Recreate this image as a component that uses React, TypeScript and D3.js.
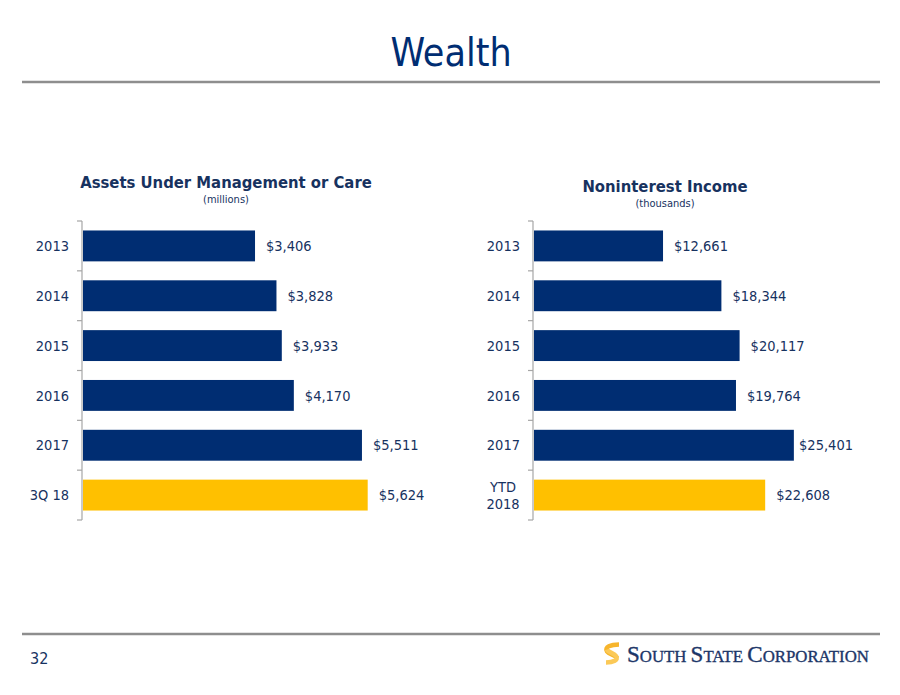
import React from "react";
import * as d3 from "d3";

const aumCategories = ["2013", "2014", "2015", "2016", "2017", "3Q 18"];
const aumValues = [3406, 3828, 3933, 4170, 5511, 5624];
const incomeCategories = ["2013", "2014", "2015", "2016", "2017", "YTD\n2018"];
const incomeValues = [12661, 18344, 20117, 19764, 25401, 22608];
const highlightIndex = 5;

const NAVY = "#002D72";
const GOLD = "#FFC000";
const TEXT = "#17325F";
const FONT = "'DejaVu Sans Condensed', 'DejaVu Sans', sans-serif";

type PanelProps = {
  title: string;
  subtitle: string;
  categories: string[];
  values: number[];
  axisX: number;
  xMax: number;
  xRangeEnd: number;
  titleX: number;
  titleY: number;
  subY: number;
  labelRightLimit: number;
};

function Panel(p: PanelProps) {
  const y = d3
    .scaleBand<string>()
    .domain(p.categories)
    .range([221, 520])
    .paddingInner(0.38)
    .paddingOuter(0.19);
  const x = d3.scaleLinear().domain([0, p.xMax]).range([p.axisX, p.xRangeEnd]);
  const fmt = d3.format("$,");
  const step = y.step();
  const boundaries = d3.range(p.categories.length + 1).map((i) => 221 + i * step);
  return (
    <g>
      <text x={p.titleX} y={p.titleY} textAnchor="middle" fontFamily={FONT} fontWeight="bold" fontSize={16.5} fill={TEXT}>
        {p.title}
      </text>
      <text x={p.titleX} y={p.subY} textAnchor="middle" fontFamily={FONT} fontSize={11} fill={TEXT}>
        {p.subtitle}
      </text>
      <line x1={p.axisX} x2={p.axisX} y1={221} y2={520} stroke="#A6A6A6" strokeWidth={1.2} />
      {boundaries.map((b, i) => (
        <line key={i} x1={p.axisX - 5} x2={p.axisX} y1={b} y2={b} stroke="#A6A6A6" strokeWidth={1.2} />
      ))}
      {p.categories.map((c, i) => {
        const y0 = y(c)!;
        const bw = y.bandwidth();
        const end = x(p.values[i]);
        const label = fmt(p.values[i]);
        const estW = label.length * 8.3;
        let lx = end + 11;
        let anchor: "start" | "end" = "start";
        if (lx + estW > p.labelRightLimit) {
          lx = p.labelRightLimit;
          anchor = "end";
        }
        const cy = y0 + bw / 2;
        const lines = c.split("\n");
        return (
          <g key={c}>
            <rect x={p.axisX + 1} y={y0} width={end - p.axisX - 1} height={bw} fill={i === highlightIndex ? GOLD : NAVY} />
            <text x={lx} y={cy} dy="0.36em" textAnchor={anchor} fontFamily={FONT} fontSize={14.5} fill={TEXT}>
              {label}
            </text>
            {lines.length === 1 ? (
              <text x={p.axisX - 13} y={cy} dy="0.36em" textAnchor="end" fontFamily={FONT} fontSize={14.5} fill={TEXT}>
                {c}
              </text>
            ) : (
              lines.map((l, j) => (
                <text
                  key={j}
                  x={p.axisX - 30}
                  y={cy + (j - (lines.length - 1) / 2) * 17}
                  dy="0.36em"
                  textAnchor="middle"
                  fontFamily={FONT}
                  fontSize={14.5}
                  fill={TEXT}
                >
                  {l}
                </text>
              ))
            )}
          </g>
        );
      })}
    </g>
  );
}

export default function App() {
  return (
    <svg
      width={900}
      height={695}
      style={{ position: "absolute", left: 0, top: 0, background: "#fff" }}
    >
      <text x={451} y={66} textAnchor="middle" fontFamily={FONT} fontSize={39} fill={NAVY}>
        Wealth
      </text>
      <line x1={22} x2={880} y1={82} y2={82} stroke="#8E8E8E" strokeWidth={2.5} />
      <Panel
        title="Assets Under Management or Care"
        subtitle="(millions)"
        categories={aumCategories}
        values={aumValues}
        axisX={82}
        xMax={6000}
        xRangeEnd={386.8}
        titleX={226}
        titleY={188}
        subY={203}
        labelRightLimit={440}
      />
      <Panel
        title="Noninterest Income"
        subtitle="(thousands)"
        categories={incomeCategories}
        values={incomeValues}
        axisX={533}
        xMax={30000}
        xRangeEnd={841.1}
        titleX={665}
        titleY={192}
        subY={207}
        labelRightLimit={853}
      />
      <line x1={22} x2={880} y1={634} y2={634} stroke="#8E8E8E" strokeWidth={2.5} />
      <text x={30} y={664} fontFamily={FONT} fontSize={16} fill={TEXT}>
        32
      </text>
      <g fill="none" strokeLinecap="butt">
        <path d="M619,644.5 C611,644.5 604,647 607,651.5 C609,654.5 616,655 617,658" stroke="#F7B52C" strokeWidth={4.5} />
        <path d="M606,662.5 C613,662.5 619,660 616,656 C614,653 608,652.5 607,649.5" stroke="#FBC957" strokeWidth={4.5} />
      </g>
      <text
        x={627}
        y={662}
        fontFamily="'Liberation Serif', 'DejaVu Serif', serif"
        fill="#1C3668"
        stroke="#1C3668"
        strokeWidth={0.35}
      >
        <tspan fontSize={23}>S</tspan>
        <tspan fontSize={16.8}>OUTH </tspan>
        <tspan fontSize={23}>S</tspan>
        <tspan fontSize={16.8}>TATE </tspan>
        <tspan fontSize={23}>C</tspan>
        <tspan fontSize={16.8}>ORPORATION</tspan>
      </text>
    </svg>
  );
}
